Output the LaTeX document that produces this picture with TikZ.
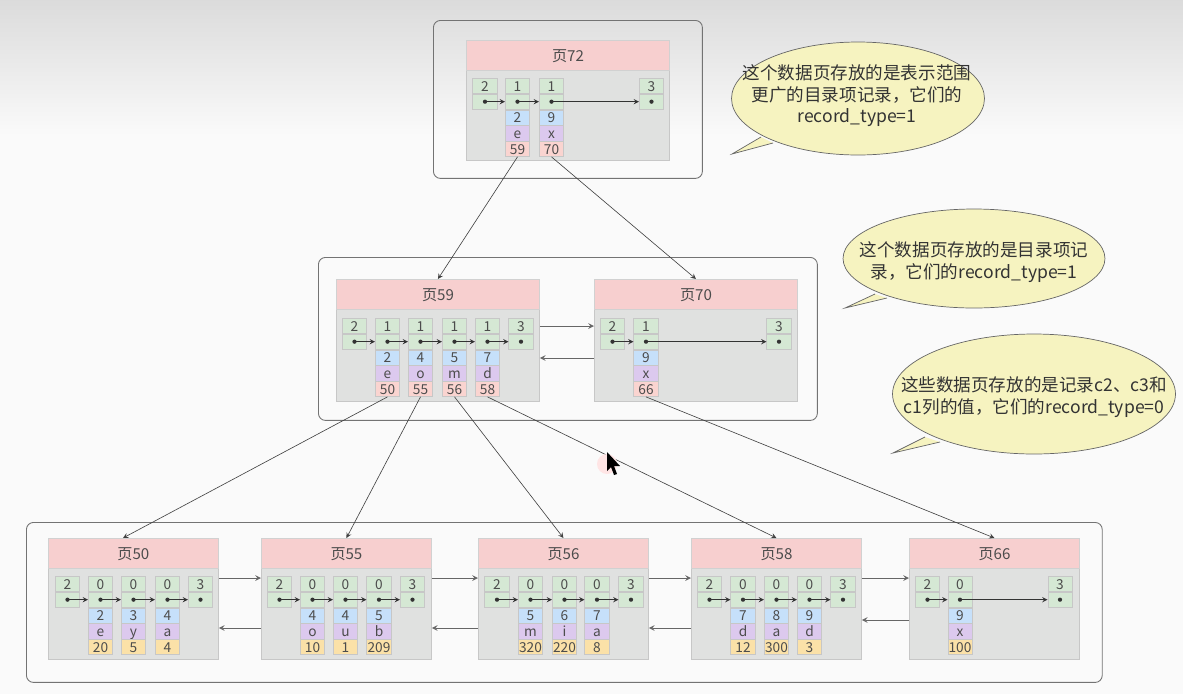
\documentclass[tikz,border=0pt]{standalone}
\usepackage{fontspec}
\setmainfont{Noto Sans CJK SC}
\usepackage{xcolor}
\usetikzlibrary{shapes.geometric, arrows, calc}
\definecolor{headred}{HTML}{F7CFCF}
\definecolor{bodygray}{HTML}{E0E1E0}
\definecolor{recgreen}{HTML}{D5E8D4}
\definecolor{recblue}{HTML}{C6E0FA}
\definecolor{recpurple}{HTML}{DCC9EE}
\definecolor{recpink}{HTML}{FAD4D0}
\definecolor{recorange}{HTML}{FBE1A8}
\definecolor{bubbleyellow}{HTML}{F6F3C0}
\tikzstyle{group} = [draw=black!55,rounded corners=4pt,line width=0.5pt]
\tikzstyle{pagebody} = [draw=black!22,fill=bodygray,line width=0.5pt,anchor=north west,inner sep=0pt]
\tikzstyle{pagehead} = [draw=black!18,fill=headred,line width=0.5pt,anchor=north west,inner sep=0pt,minimum height=0.6cm,font=\fontsize{8.6pt}{10pt}\selectfont,text=black!70,text height=7.3pt,text depth=0pt]
\tikzstyle{cell} = [draw=black!22,line width=0.3pt,inner sep=0pt,minimum width=0.49cm,minimum height=0.305cm,font=\fontsize{7.8pt}{9pt}\selectfont,text=black!70,text height=6.3pt,text depth=0pt,anchor=north]
\tikzstyle{nextptr} = [line width=0.35pt,black!80,->,>=stealth]
\tikzstyle{treelink} = [line width=0.35pt,black!75,->,>=stealth]
\tikzstyle{sidelink} = [line width=0.45pt,black!60,->,>=stealth]
\tikzstyle{bubble} = [draw=black!60,fill=bubbleyellow,ellipse,inner sep=0pt,line width=0.4pt]
\tikzstyle{bubbletext} = [inner sep=0pt,align=center,font=\fontsize{10pt}{12.2pt}\selectfont,text=black!80]

% page: name, x, y, width, height, title
\newcommand{\datapage}[6]{
    \node[pagebody,minimum width=#4*0.02cm,minimum height=#5*0.02cm] (#1) at (#2,#3) {};
    \node[pagehead,minimum width=#4*0.02cm] (#1h) at (#2,#3) {#6};
}
% two green cells: name, x, y, type
\newcommand{\infimum}[4]{
    \node[cell,fill=recgreen] (#1t) at (#2,#3) {#4};
    \node[cell,fill=recgreen] (#1p) at (#1t.south) {};
    \fill[black!80] (#1p.center) circle (1.2pt);
}
% record column: name, x, y, type, key, letter, value, colour
\newcommand{\record}[8]{
    \infimum{#1}{#2}{#3}{#4}
    \node[cell,fill=recblue] (#1k) at (#1p.south) {#5};
    \node[cell,fill=recpurple] (#1c) at (#1k.south) {#6};
    \node[cell,fill=#8] (#1v) at (#1c.south) {#7};
}

\begin{document}
\begin{tikzpicture}[x=0.02cm,y=-0.02cm]
    \useasboundingbox (0,0) rectangle (1183,694);
    \fill[white!98!black] (0,0) rectangle (1183,694);
    \shade[top color=black!14,bottom color=white!98!black] (0,0) rectangle (1183,135);

    % outer frames
    \node[group,minimum width=5.38cm,minimum height=3.16cm,anchor=north west] (top) at (433,20) {};
    \node[group,minimum width=9.98cm,minimum height=3.26cm,anchor=north west] (mid) at (318,257) {};
    \node[group,minimum width=21.52cm,minimum height=3.2cm,anchor=north west] (low) at (26,522) {};

    % top level
    \datapage{p72}{466}{40}{203}{120}{页72}
    \infimum{a0}{485}{78}{2}
    \record{a1}{517.5}{78}{1}{2}{e}{59}{recpink}
    \record{a2}{551.5}{78}{1}{9}{x}{70}{recpink}
    \infimum{a3}{651.5}{78}{3}
    \draw[nextptr] (a0p.center) -- (a1p.west);
    \draw[nextptr] (a1p.center) -- (a2p.west);
    \draw[nextptr] (a2p.center) -- (a3p.west);

    % middle level
    \datapage{p59}{336}{279}{203}{122}{页59}
    \datapage{p70}{594}{279}{203}{122}{页70}
    \infimum{b0}{354.5}{318}{2}
    \record{b1}{387.5}{318}{1}{2}{e}{50}{recpink}
    \record{b2}{420.5}{318}{1}{4}{o}{55}{recpink}
    \record{b3}{454.5}{318}{1}{5}{m}{56}{recpink}
    \record{b4}{487.5}{318}{1}{7}{d}{58}{recpink}
    \infimum{b5}{521}{318}{3}
    \infimum{c0}{612.5}{318}{2}
    \record{c1}{646}{318}{1}{9}{x}{66}{recpink}
    \infimum{c2}{779}{318}{3}
    \draw[nextptr] (b0p.center) -- (b1p.west);
    \draw[nextptr] (b1p.center) -- (b2p.west);
    \draw[nextptr] (b2p.center) -- (b3p.west);
    \draw[nextptr] (b3p.center) -- (b4p.west);
    \draw[nextptr] (b4p.center) -- (b5p.west);
    \draw[nextptr] (c0p.center) -- (c1p.west);
    \draw[nextptr] (c1p.center) -- (c2p.west);

    % leaf level
    \datapage{p50}{48}{538}{170}{121}{页50}
    \datapage{p55}{261}{538}{170}{121}{页55}
    \datapage{p56}{478}{538}{170}{121}{页56}
    \datapage{p58}{691}{538}{170}{121}{页58}
    \datapage{p66}{909}{538}{170}{121}{页66}

    \infimum{d0}{67.5}{576}{2}
    \record{d1}{100.5}{576}{0}{2}{e}{20}{recorange}
    \record{d2}{133.5}{576}{0}{3}{y}{5}{recorange}
    \record{d3}{167.5}{576}{0}{4}{a}{4}{recorange}
    \infimum{d4}{200.5}{576}{3}

    \infimum{e0}{279.5}{576}{2}
    \record{e1}{312.5}{576}{0}{4}{o}{10}{recorange}
    \record{e2}{345.5}{576}{0}{4}{u}{1}{recorange}
    \record{e3}{379}{576}{0}{5}{b}{209}{recorange}
    \infimum{e4}{412.5}{576}{3}

    \infimum{f0}{497}{576}{2}
    \record{f1}{530.5}{576}{0}{5}{m}{320}{recorange}
    \record{f2}{564.5}{576}{0}{6}{i}{220}{recorange}
    \record{f3}{597}{576}{0}{7}{a}{8}{recorange}
    \infimum{f4}{631}{576}{3}

    \infimum{g0}{709.5}{576}{2}
    \record{g1}{743}{576}{0}{7}{d}{12}{recorange}
    \record{g2}{776.5}{576}{0}{8}{a}{300}{recorange}
    \record{g3}{809.5}{576}{0}{9}{d}{3}{recorange}
    \infimum{g4}{843}{576}{3}

    \infimum{h0}{927.5}{576}{2}
    \record{h1}{960}{576}{0}{9}{x}{100}{recorange}
    \infimum{h2}{1060}{576}{3}

    \foreach \pg in {d,e,f,g}{
        \draw[nextptr] (\pg0p.center) -- (\pg1p.west);
        \draw[nextptr] (\pg1p.center) -- (\pg2p.west);
        \draw[nextptr] (\pg2p.center) -- (\pg3p.west);
        \draw[nextptr] (\pg3p.center) -- (\pg4p.west);
    }
    \draw[nextptr] (h0p.center) -- (h1p.west);
    \draw[nextptr] (h1p.center) -- (h2p.west);

    % links between pages
    \draw[sidelink] ($(p59.north east)+(0,47)$) -- ($(p70.north west)+(0,47)$);
    \draw[sidelink] ($(p70.north west)+(0,79)$) -- ($(p59.north east)+(0,79)$);
    \draw[sidelink] ($(p50.north east)+(0,40)$) -- ($(p55.north west)+(0,40)$);
    \draw[sidelink] ($(p55.north west)+(0,90)$) -- ($(p50.north east)+(0,90)$);
    \draw[sidelink] ($(p55.north east)+(0,40)$) -- ($(p56.north west)+(0,40)$);
    \draw[sidelink] ($(p56.north west)+(0,90)$) -- ($(p55.north east)+(0,90)$);
    \draw[sidelink] ($(p56.north east)+(0,40)$) -- ($(p58.north west)+(0,40)$);
    \draw[sidelink] ($(p58.north west)+(0,90)$) -- ($(p56.north east)+(0,90)$);
    \draw[sidelink] ($(p58.north east)+(0,40)$) -- ($(p66.north west)+(0,40)$);
    \draw[sidelink] ($(p66.north west)+(0,82)$) -- ($(p58.north east)+(0,82)$);

    % links down the tree
    \draw[treelink] (a1v.south) -- (p59.north);
    \draw[treelink] (a2v.south) -- (p70.north);
    \coordinate (p50in) at (123,538);
    \draw[treelink] (b1v.south) -- (p50in);
    \draw[treelink] (b2v.south) -- (p55.north);
    \draw[treelink] (b3v.south) -- (p56.north);
    \draw[treelink] (b4v.south) -- (p58.north);
    \draw[treelink] (c1v.south) -- (p66.north);

    % speech bubbles
    \node[bubble,minimum width=5.06cm,minimum height=2.26cm] (noteA) at (858,98.5) {};
    \coordinate (tailA) at (732,154);
    \coordinate (tailAa) at (761,137);
    \coordinate (tailAb) at (773,143);
    \fill[bubbleyellow] (tailAa) -- (tailA) -- (tailAb) -- cycle;
    \draw[black!60,line width=0.4pt] (tailAa) -- (tailA) -- (tailAb);
    \node[bubbletext] (noteAt) at (857,96) {这个数据页存放的是表示范围\\更广的目录项记录，它们的\\record\_type=1};

    \node[bubble,minimum width=5.24cm,minimum height=1.98cm] (noteB) at (974,258.5) {};
    \coordinate (tailB) at (845,308);
    \coordinate (tailBa) at (875,294);
    \coordinate (tailBb) at (887,298);
    \fill[bubbleyellow] (tailBa) -- (tailB) -- (tailBb) -- cycle;
    \draw[black!60,line width=0.4pt] (tailBa) -- (tailB) -- (tailBb);
    \node[bubbletext] (noteBt) at (974,262) {这个数据页存放的是目录项记\\录，它们的record\_type=1};

    \node[bubble,minimum width=5.66cm,minimum height=2.4cm] (noteC) at (1034,394) {};
    \coordinate (tailC) at (893,453);
    \coordinate (tailCa) at (925,437);
    \coordinate (tailCb) at (940,442);
    \fill[bubbleyellow] (tailCa) -- (tailC) -- (tailCb) -- cycle;
    \draw[black!60,line width=0.4pt] (tailCa) -- (tailC) -- (tailCb);
    \node[bubbletext] (noteCt) at (1034,397) {这些数据页存放的是记录c2、c3和\\c1列的值，它们的record\_type=0};

    % mouse pointer
    \fill[red!10] (607,464) circle (10);
    \fill[black] (607,452) -- (607,471) -- (611,467) -- (614,475) -- (617,474) -- (614,466) -- (620,466) -- cycle;
\end{tikzpicture}
\end{document}
